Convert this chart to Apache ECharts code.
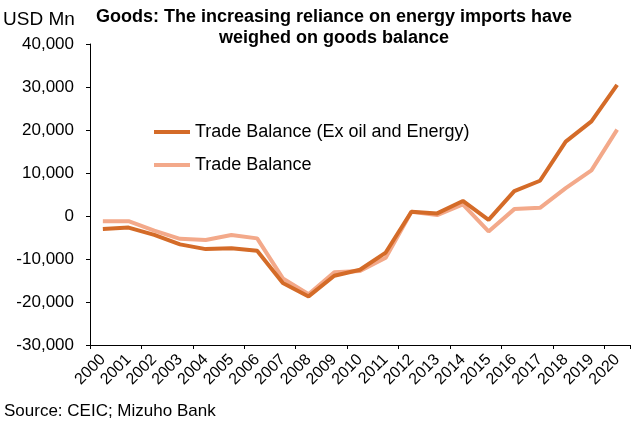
<!DOCTYPE html>
<html>
<head>
<meta charset="utf-8">
<script src="https://cdn.jsdelivr.net/npm/echarts@6/dist/echarts.min.js"></script>
<style>
  html, body { margin: 0; padding: 0; background: #fff; }
  #chart { width: 633px; height: 421px; }
</style>
</head>
<body>
<div id="chart"></div>
<script>
// Annual goods trade balance, USD Mn
const years = ['2000','2001','2002','2003','2004','2005','2006','2007','2008','2009','2010',
               '2011','2012','2013','2014','2015','2016','2017','2018','2019','2020'];
const exOilEnergy = [-3000, -2700, -4400, -6600, -7700, -7500, -8100, -15600, -18700, -13900, -12500,
                     -8500, 1000, 600, 3500, -900, 5800, 8200, 17300, 22000, 30500];
const tradeBalance = [-1200, -1200, -3400, -5300, -5600, -4400, -5200, -14500, -18200, -13100, -12800,
                      -9700, 1000, 200, 2700, -3600, 1600, 1900, 6500, 10600, 20100];
const yTicks = { min: -30000, max: 40000, step: 10000 };

const font = 'Arial, "Liberation Sans", sans-serif';
const darkOrange = '#d46b28';
const lightOrange = '#f3a98a';

const chart = echarts.init(document.getElementById('chart'), null, { renderer: 'canvas' });
chart.setOption({
  animation: false,
  textStyle: { fontFamily: font },
  title: {
    text: 'Goods: The increasing reliance on energy imports have\nweighed on goods balance',
    left: 334, top: 7, textAlign: 'center', padding: 0,
    textStyle: { fontSize: 18, fontWeight: 'bold', color: '#000', lineHeight: 21, fontFamily: font }
  },
  graphic: [
    { type: 'text', left: 3, top: 10, style: { text: 'USD Mn', fontSize: 19, fill: '#000', fontFamily: font } },
    { type: 'text', left: 4, top: 403, style: { text: 'Source: CEIC; Mizuho Bank', fontSize: 17, fill: '#000', fontFamily: font } }
  ],
  legend: {
    left: 154, top: 123, orient: 'vertical', itemGap: 15, padding: 0,
    itemWidth: 36, itemHeight: 18,
    icon: 'path://M0,7 L36,7 L36,11 L0,11 Z',
    textStyle: { fontSize: 18, color: '#000', fontFamily: font },
    data: ['Trade Balance (Ex oil and Energy)', 'Trade Balance']
  },
  grid: { left: 90, right: 3, top: 44, bottom: 76, containLabel: false },
  xAxis: [
    {
      type: 'category', data: years, boundaryGap: true, position: 'bottom',
      axisLine: { show: false }, axisTick: { show: false },
      axisLabel: { rotate: 45, fontSize: 16, color: '#000', margin: 12, interval: 0, fontFamily: font }
    },
    {
      type: 'category', data: years, boundaryGap: true, position: 'bottom',
      axisLine: { onZero: true, lineStyle: { color: '#000', width: 1 } },
      axisTick: { show: true, inside: false, length: 4, lineStyle: { color: '#000' } },
      axisLabel: { show: false }
    }
  ],
  yAxis: {
    type: 'value', min: yTicks.min, max: yTicks.max, interval: yTicks.step,
    axisLine: { show: true, lineStyle: { color: '#000', width: 1 } },
    axisTick: { show: true, length: 4, lineStyle: { color: '#000' } },
    splitLine: { show: false },
    axisLabel: {
      fontSize: 17, color: '#000', margin: 16, fontFamily: font,
      formatter: v => v.toLocaleString('en-US')
    }
  },
  series: [
    {
      name: 'Trade Balance (Ex oil and Energy)', type: 'line', data: exOilEnergy,
      xAxisIndex: 0, symbol: 'none', z: 3,
      lineStyle: { color: darkOrange, width: 4 }, itemStyle: { color: darkOrange }
    },
    {
      name: 'Trade Balance', type: 'line', data: tradeBalance,
      xAxisIndex: 0, symbol: 'none', z: 2,
      lineStyle: { color: lightOrange, width: 4 }, itemStyle: { color: lightOrange }
    }
  ]
});
</script>
</body>
</html>
